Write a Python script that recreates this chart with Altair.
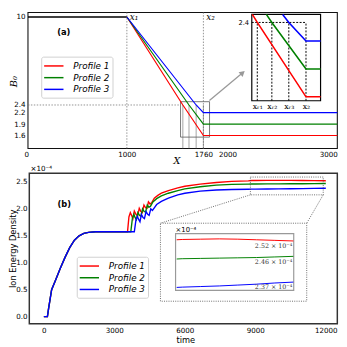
import altair as alt
import pandas as pd

# ---------------- data ----------------
profiles = ["Profile 1", "Profile 2", "Profile 3"]
colors = ["#ff0000", "#008000", "#0000ff"]

# panel (a): schematic B0(X)
b0_top = 10.0
b0_ref = 2.4
b0_end = [1.6, 1.9, 2.2]
x1_val, x2_val = 1000, 1760
xr_vals = [1556, 1617, 1688]
x_left, x_right = 18, 3090
a_xticks = [0, 1000, 1760, 2000, 3000]
a_yticks = [1.6, 1.9, 2.2, 2.4, 10]
a_xdom = [0, 3090]
a_ydom = [1.26, 2.4, 10.39]
ai_xdom = [1533, 1821]
ai_ydom = [1.558, 2.4, 2.684]
ai_xlabels = ["xᵣ₁", "xᵣ₂", "xᵣ₃", "x₂"]
arrow_x = [1820, 2150]
arrow_y = [2.79, 5.18]
a_label_xy = [373, 8.72]

# panel (b): ion energy density (x 1e-4) vs time
t_rise = [0, 150, 200, 330, 500, 700, 900, 1100, 1300, 1500, 1700, 1900, 2200, 3000]
v_rise = [0, 0, 0.15, 0.5, 0.68, 0.9, 1.1, 1.28, 1.42, 1.5, 1.545, 1.565, 1.575, 1.575]

t_p1 = [3560, 3620, 3680, 3730, 3790, 3850, 3920, 3990, 4060, 4130, 4190, 4260, 4330, 4390,
        4450, 4520, 4600, 4700, 4850, 5000, 5300, 5700, 6000, 6650, 7340, 8000, 8700,
        8850, 9000, 9500, 10000, 10500, 11000, 11500, 12000]
v_p1 = [1.575, 1.85, 1.93, 1.88, 1.82, 1.96, 1.9, 1.87, 2.01, 1.95, 1.93, 2.07, 2.02, 2.01,
        2.13, 2.09, 2.12, 2.2, 2.25, 2.29, 2.34, 2.39, 2.42, 2.46, 2.49, 2.51, 2.52,
        2.526, 2.527, 2.528, 2.529, 2.528, 2.526, 2.524, 2.522]
t_p2 = [3700, 3770, 3830, 3880, 3940, 4000, 4070, 4130, 4200, 4270, 4330, 4400, 4470, 4540,
        4640, 4800, 5000, 5300, 5700, 6000, 6650, 7340, 8000, 8700,
        8850, 9000, 9500, 10000, 10500, 11000, 11500, 12000]
v_p2 = [1.575, 1.83, 1.9, 1.84, 1.8, 1.93, 1.88, 1.86, 2.0, 1.95, 1.94, 2.07, 2.03, 2.05,
        2.13, 2.19, 2.24, 2.29, 2.34, 2.37, 2.41, 2.44, 2.455, 2.46,
        2.461, 2.462, 2.463, 2.464, 2.465, 2.466, 2.468, 2.47]
t_p3 = [3850, 3920, 3980, 4040, 4090, 4150, 4220, 4280, 4350, 4420, 4480, 4550, 4620, 4700,
        4800, 5000, 5300, 5700, 6000, 6650, 7340, 8000, 8700,
        8850, 9000, 9500, 10000, 10500, 11000, 11500, 12000]
v_p3 = [1.575, 1.8, 1.86, 1.8, 1.76, 1.9, 1.84, 1.82, 1.95, 1.9, 1.88, 2.0, 1.97, 2.02,
        2.08, 2.14, 2.2, 2.26, 2.29, 2.33, 2.35, 2.36, 2.364,
        2.365, 2.366, 2.368, 2.37, 2.373, 2.376, 2.38, 2.383]

b_xdom = [-620, 12490]
b_ydom = [-0.131, 2.661]
b_xticks = [0, 3000, 6000, 9000, 12000]
b_yticks = [0.0, 0.5, 1.0, 1.5, 2.0, 2.5]
bi_xdom = [8820, 12010]
bi_ydom = [2.355, 2.547]
bi_xticks = [9000, 10000, 11000, 12000]
bi_yticks = [2.4, 2.5]
zoom_t = [8790, 11890]
zoom_v = [2.26, 2.59]
box_t = [4961, 11188]
box_v = [0.287, 1.734]
final_vals = ["2.52", "2.46", "2.37"]
final_anchor_t = 11969
final_anchor_v = [2.5055, 2.451, 2.366]
b_label_xy = [866, 2.09]
b_exp_xy = [-565, 2.738]
bi_exp_xy = [8820, 2.56]

# ---------------- layout ----------------
W = H = 339


def PX(r):
    return (r - 5) * 0.992


def PY(r):
    return (r - 1.5) * 0.99


def sc(dom, rng):
    return alt.Scale(domain=dom, range=rng, zero=False, nice=False)


SA_X = sc(a_xdom, [PX(23.75), PX(345)])
SA_Y = sc(a_ydom, [PY(142.7), PY(97.7), PY(2)])
SAI_X = sc(ai_xdom, [PX(256.7), PX(327.7)])
SAI_Y = sc(ai_ydom, [PY(93.3), PY(12.3), PY(4)])
SB_X = sc(b_xdom, [PX(27), PX(345)])
SB_Y = sc(b_ydom, [PY(324), PY(168.3)])
SBI_X = sc(bi_xdom, [PX(178), PX(300)])
SBI_Y = sc(bi_ydom, [PY(289.5), PY(230.7)])

AX = dict(domain=False, ticks=False, grid=False, labelFont="DejaVu Sans",
          labelFontSize=7.3, labelColor="black", labelFlush=False, labelOverlap=False)

COL_SCALE = alt.Scale(domain=profiles, range=colors)


def X(f, s, axis=None):
    return alt.X(f, type="quantitative", scale=s, axis=axis)


def Y(f, s, axis=None):
    return alt.Y(f, type="quantitative", scale=s, axis=axis)


def legend(lx, ly):
    return alt.Legend(orient="none", legendX=lx, legendY=ly, title=None,
                      symbolType="M-1.8,0H1.8", symbolSize=121, symbolStrokeWidth=1.5,
                      symbolOffset=3.4, labelOffset=13.4, labelFont="DejaVu Sans",
                      labelFontStyle="italic", labelFontSize=9, labelColor="black",
                      rowPadding=0, padding=3, strokeColor="#d0d0d0", fillColor="white",
                      cornerRadius=2)


layers = []

# ======== panel (a) ========
frame_a = pd.DataFrame({"x0": [x_left], "x1": [x_right], "y0": [a_ydom[0]], "y1": [a_ydom[-1]]})
ax_a_x = alt.Axis(orient="bottom", offset=PY(142.7) - H, values=a_xticks, format="d",
                  labelPadding=2, title="X", titleFont="DejaVu Serif", titleFontStyle="italic",
                  titleFontWeight="normal", titleFontSize=10, titleColor="black",
                  titleX=PX(179), titleY=PY(155) - PY(142.7), titleBaseline="middle",
                  titleAlign="center", **AX)
ax_a_y = alt.Axis(orient="left", offset=-PX(25.7), values=a_yticks, format=".1~f",
                  labelPadding=3, title="B₀", titleFont="DejaVu Serif", titleFontStyle="italic",
                  titleFontWeight="normal", titleFontSize=10, titleColor="black",
                  titleX=PX(11) - PX(25.7), titleY=PY(73), titleAngle=270,
                  titleBaseline="middle", titleAlign="center", **AX)
layers.append(alt.Chart(frame_a).mark_rect(fillOpacity=0, stroke="#111111", strokeWidth=1.1).encode(
    x=X("x0", SA_X, ax_a_x), x2="x1", y=Y("y0", SA_Y, ax_a_y), y2="y1"))

# dotted guide lines
vg = pd.DataFrame({"x": [x1_val, x2_val], "y0": [a_ydom[0]] * 2, "y1": [a_ydom[-1]] * 2})
layers.append(alt.Chart(vg).mark_rule(color="#777777", strokeWidth=0.8, strokeDash=[1.5, 1.5]).encode(
    x=X("x", SA_X), y=Y("y0", SA_Y), y2="y1"))
hg = pd.DataFrame({"x0": [x_left], "x1": [ai_xdom[0]], "y": [b0_ref]})
layers.append(alt.Chart(hg).mark_rule(color="#777777", strokeWidth=0.8, strokeDash=[1.5, 1.5]).encode(
    x=X("x0", SA_X), x2="x1", y=Y("y", SA_Y)))

# zoom rectangle and its drop lines
zr = pd.DataFrame({"x0": [ai_xdom[0]], "x1": [ai_xdom[1]], "y0": [ai_ydom[0]], "y1": [ai_ydom[-1]]})
layers.append(alt.Chart(zr).mark_rect(fillOpacity=0, stroke="#555555", strokeWidth=0.8).encode(
    x=X("x0", SA_X), x2="x1", y=Y("y0", SA_Y), y2="y1"))
dl = pd.DataFrame({"x": xr_vals + [x2_val], "y0": [a_ydom[0]] * 4, "y1": [b0_ref] * 4})
layers.append(alt.Chart(dl).mark_rule(color="#666666", strokeWidth=0.6).encode(
    x=X("x", SA_X), y=Y("y0", SA_Y), y2="y1"))

# black flat part
flat = pd.DataFrame({"x": [x_left, x1_val], "y": [b0_top, b0_top]})
layers.append(alt.Chart(flat).mark_line(color="black", strokeWidth=1.6).encode(
    x=X("x", SA_X), y=Y("y", SA_Y)))

# profiles
rows = []
for p, xr, ye in zip(profiles, xr_vals, b0_end):
    for xx, yy in [(x1_val, b0_top), (xr, b0_ref), (x2_val, ye), (x_right, ye)]:
        rows.append({"x": xx, "y": yy, "profile": p})
prof_a = pd.DataFrame(rows)
layers.append(alt.Chart(prof_a).mark_line(strokeWidth=1.2).encode(
    x=X("x", SA_X), y=Y("y", SA_Y),
    color=alt.Color("profile:N", scale=COL_SCALE, legend=legend(PX(39.3), PY(57.3) - 9.5))))

# x1, x2 labels
xl = pd.DataFrame({"x": [x1_val, x2_val], "y": [b0_top, b0_top], "t": ["x₁", "x₂"]})
layers.append(alt.Chart(xl).mark_text(align="left", baseline="middle", dx=3, font="DejaVu Serif",
                                      fontStyle="italic", fontSize=9, color="black").encode(
    x=X("x", SA_X), y=Y("y", SA_Y), text="t:N"))

# (a)
layers.append(alt.Chart(pd.DataFrame({"x": [a_label_xy[0]], "y": [a_label_xy[1]], "t": ["(a)"]}))
              .mark_text(font="DejaVu Sans", fontWeight="bold", fontSize=8.5, color="black")
              .encode(x=X("x", SA_X), y=Y("y", SA_Y), text="t:N"))

# arrow
arr = pd.DataFrame({"x": arrow_x, "y": arrow_y})
layers.append(alt.Chart(arr).mark_line(color="#999999", strokeWidth=1.3).encode(
    x=X("x", SA_X), y=Y("y", SA_Y)))
layers.append(alt.Chart(arr.tail(1)).mark_point(shape="triangle-up", filled=True, size=40, angle=50,
                                                color="#999999", opacity=1).encode(
    x=X("x", SA_X), y=Y("y", SA_Y)))

# ---- inset (a)
labexpr = " : ".join([f"datum.value == {v} ? '{l}'" for v, l in zip(xr_vals + [x2_val], ai_xlabels)]) + " : ''"
ax_ai_x = alt.Axis(orient="bottom", offset=PY(93.3) - H, values=xr_vals + [x2_val], labelExpr=labexpr,
                   labelPadding=2, title=None, **{**AX, "labelFont": "DejaVu Serif", "labelFontSize": 8})
ax_ai_y = alt.Axis(orient="left", offset=-PX(256.7), values=[b0_ref], format=".1f",
                   labelPadding=3.4, title=None, **{**AX, "labelFontSize": 6.8})
fr_ai = pd.DataFrame({"x0": [ai_xdom[0]], "x1": [ai_xdom[1]], "y0": [ai_ydom[0]], "y1": [ai_ydom[-1]]})
layers.append(alt.Chart(fr_ai).mark_rect(fill="white", stroke="black", strokeWidth=1.2).encode(
    x=X("x0", SAI_X, ax_ai_x), x2="x1", y=Y("y0", SAI_Y, ax_ai_y), y2="y1"))
ih = pd.DataFrame({"x0": [ai_xdom[0]], "x1": [x2_val], "y": [b0_ref]})
layers.append(alt.Chart(ih).mark_rule(color="black", strokeWidth=1, strokeDash=[2, 1.5]).encode(
    x=X("x0", SAI_X), x2="x1", y=Y("y", SAI_Y)))
iv = pd.DataFrame({"x": xr_vals + [x2_val], "y0": [ai_ydom[0]] * 4, "y1": [b0_ref] * 4})
layers.append(alt.Chart(iv).mark_rule(color="black", strokeWidth=1, strokeDash=[2, 1.5]).encode(
    x=X("x", SAI_X), y=Y("y0", SAI_Y), y2="y1"))
rows = []
for p, xr, ye in zip(profiles, xr_vals, b0_end):
    xe = x1_val + (b0_top - ai_ydom[-1]) / (b0_top - b0_ref) * (xr - x1_val)
    for xx, yy in [(xe, ai_ydom[-1]), (xr, b0_ref), (x2_val, ye), (ai_xdom[1], ye)]:
        rows.append({"x": xx, "y": yy, "profile": p})
prof_ai = pd.DataFrame(rows)
layers.append(alt.Chart(prof_ai).mark_line(strokeWidth=1.6).encode(
    x=X("x", SAI_X), y=Y("y", SAI_Y),
    color=alt.Color("profile:N", scale=COL_SCALE, legend=None)))

# ======== panel (b) ========
frame_b = pd.DataFrame({"x0": [b_xdom[0]], "x1": [b_xdom[1]], "y0": [b_ydom[0]], "y1": [b_ydom[1]]})
ax_b_x = alt.Axis(orient="bottom", offset=PY(324) - H, values=b_xticks, format="d",
                  labelPadding=2.5, title="time", titleFont="DejaVu Sans", titleFontWeight="normal",
                  titleFontSize=8.5, titleColor="black", titleX=PX(188), titleY=PY(340) - PY(324),
                  titleBaseline="middle", titleAlign="center", **AX)
ax_b_y = alt.Axis(orient="left", offset=-PX(27), values=b_yticks, format=".1f",
                  labelPadding=2.3, title="Ion Energy Density", titleFont="DejaVu Sans",
                  titleFontWeight="normal", titleFontSize=8.5, titleColor="black",
                  titleX=4.4 - PX(27), titleY=PY(246), titleAngle=270,
                  titleBaseline="middle", titleAlign="center", **AX)
layers.append(alt.Chart(frame_b).mark_rect(fillOpacity=0, stroke="#333333", strokeWidth=1.5).encode(
    x=X("x0", SB_X, ax_b_x), x2="x1", y=Y("y0", SB_Y, ax_b_y), y2="y1"))

rows = []
for p, ts, vs in zip(profiles, [t_p1, t_p2, t_p3], [v_p1, v_p2, v_p3]):
    for tt, vv in zip(t_rise + ts, v_rise + vs):
        rows.append({"t": tt, "v": vv, "profile": p})
prof_b = pd.DataFrame(rows)
layers.append(alt.Chart(prof_b).mark_line(strokeWidth=1.4).encode(
    x=X("t", SB_X), y=Y("v", SB_Y),
    color=alt.Color("profile:N", scale=COL_SCALE, legend=legend(PX(76), PY(264.3) - 9.5))))

# zoom rect, connectors, inset box (dotted)
DOT = dict(color="#444444", strokeWidth=0.8, strokeDash=[1, 1.3])
zb = pd.DataFrame({"x0": [zoom_t[0]], "x1": [zoom_t[1]], "y0": [zoom_v[0]], "y1": [zoom_v[1]]})
layers.append(alt.Chart(zb).mark_rect(fillOpacity=0, stroke="#444444", strokeWidth=0.8,
                                      strokeDash=[1, 1.3]).encode(
    x=X("x0", SB_X), x2="x1", y=Y("y0", SB_Y), y2="y1"))
cn = pd.DataFrame({"x0": [zoom_t[0], zoom_t[1]], "y0": [zoom_v[0]] * 2,
                   "x1": [box_t[0], box_t[1]], "y1": [box_v[1]] * 2})
layers.append(alt.Chart(cn).mark_rule(**DOT).encode(
    x=X("x0", SB_X), x2="x1", y=Y("y0", SB_Y), y2="y1"))
bb = pd.DataFrame({"x0": [box_t[0]], "x1": [box_t[1]], "y0": [box_v[0]], "y1": [box_v[1]]})
layers.append(alt.Chart(bb).mark_rect(fill="white", stroke="#444444", strokeWidth=0.8,
                                      strokeDash=[1, 1.3]).encode(
    x=X("x0", SB_X), x2="x1", y=Y("y0", SB_Y), y2="y1"))

# texts (b)
layers.append(alt.Chart(pd.DataFrame({"x": [b_label_xy[0]], "y": [b_label_xy[1]], "t": ["(b)"]}))
              .mark_text(font="DejaVu Sans", fontWeight="bold", fontSize=8.5, color="black")
              .encode(x=X("x", SB_X), y=Y("y", SB_Y), text="t:N"))
layers.append(alt.Chart(pd.DataFrame({"x": [b_exp_xy[0]], "y": [b_exp_xy[1]], "t": ["×10⁻⁴"]}))
              .mark_text(font="DejaVu Sans", fontSize=7.3, align="left", baseline="middle", color="black")
              .encode(x=X("x", SB_X), y=Y("y", SB_Y), text="t:N"))

# ---- inset (b)
ax_bi_x = alt.Axis(orient="bottom", offset=PY(289.5) - H, values=bi_xticks, format="d",
                   labelPadding=1.5, title=None, **{**AX, "labelFontSize": 7})
ax_bi_y = alt.Axis(orient="left", offset=-PX(178), values=bi_yticks, format=".1f",
                   labelPadding=4.5, title=None, **{**AX, "labelFontSize": 7})
fr_bi = pd.DataFrame({"x0": [bi_xdom[0]], "x1": [bi_xdom[1]], "y0": [bi_ydom[0]], "y1": [bi_ydom[1]]})
layers.append(alt.Chart(fr_bi).mark_rect(fill="white", stroke="#999999", strokeWidth=1.2).encode(
    x=X("x0", SBI_X, ax_bi_x), x2="x1", y=Y("y0", SBI_Y, ax_bi_y), y2="y1"))
layers.append(alt.Chart(prof_b).transform_filter(alt.datum.t >= 8840).mark_line(strokeWidth=1).encode(
    x=X("t", SBI_X), y=Y("v", SBI_Y),
    color=alt.Color("profile:N", scale=COL_SCALE, legend=None)))
ann = pd.DataFrame({"x": [final_anchor_t] * 3, "y": final_anchor_v,
                    "t": [f"{v} × 10⁻⁴" for v in final_vals]})
layers.append(alt.Chart(ann).mark_text(font="DejaVu Serif", fontSize=6.5, align="right",
                                       baseline="middle", color="#333333").encode(
    x=X("x", SBI_X), y=Y("y", SBI_Y), text="t:N"))
layers.append(alt.Chart(pd.DataFrame({"x": [bi_exp_xy[0]], "y": [bi_exp_xy[1]], "t": ["×10⁻⁴"]}))
              .mark_text(font="DejaVu Sans", fontSize=7, align="left", baseline="middle", color="black")
              .encode(x=X("x", SBI_X), y=Y("y", SBI_Y), text="t:N"))

chart = (alt.layer(*layers)
         .resolve_scale(x="independent", y="independent", color="independent")
         .resolve_axis(x="independent", y="independent")
         .resolve_legend(color="independent")
         .properties(width=W, height=H, autosize=alt.AutoSizeParams(type="none"), padding=0,
                     background="white")
         .configure_view(stroke=None))

chart.save("out.html", embed_options={"renderer": "svg", "actions": False})
